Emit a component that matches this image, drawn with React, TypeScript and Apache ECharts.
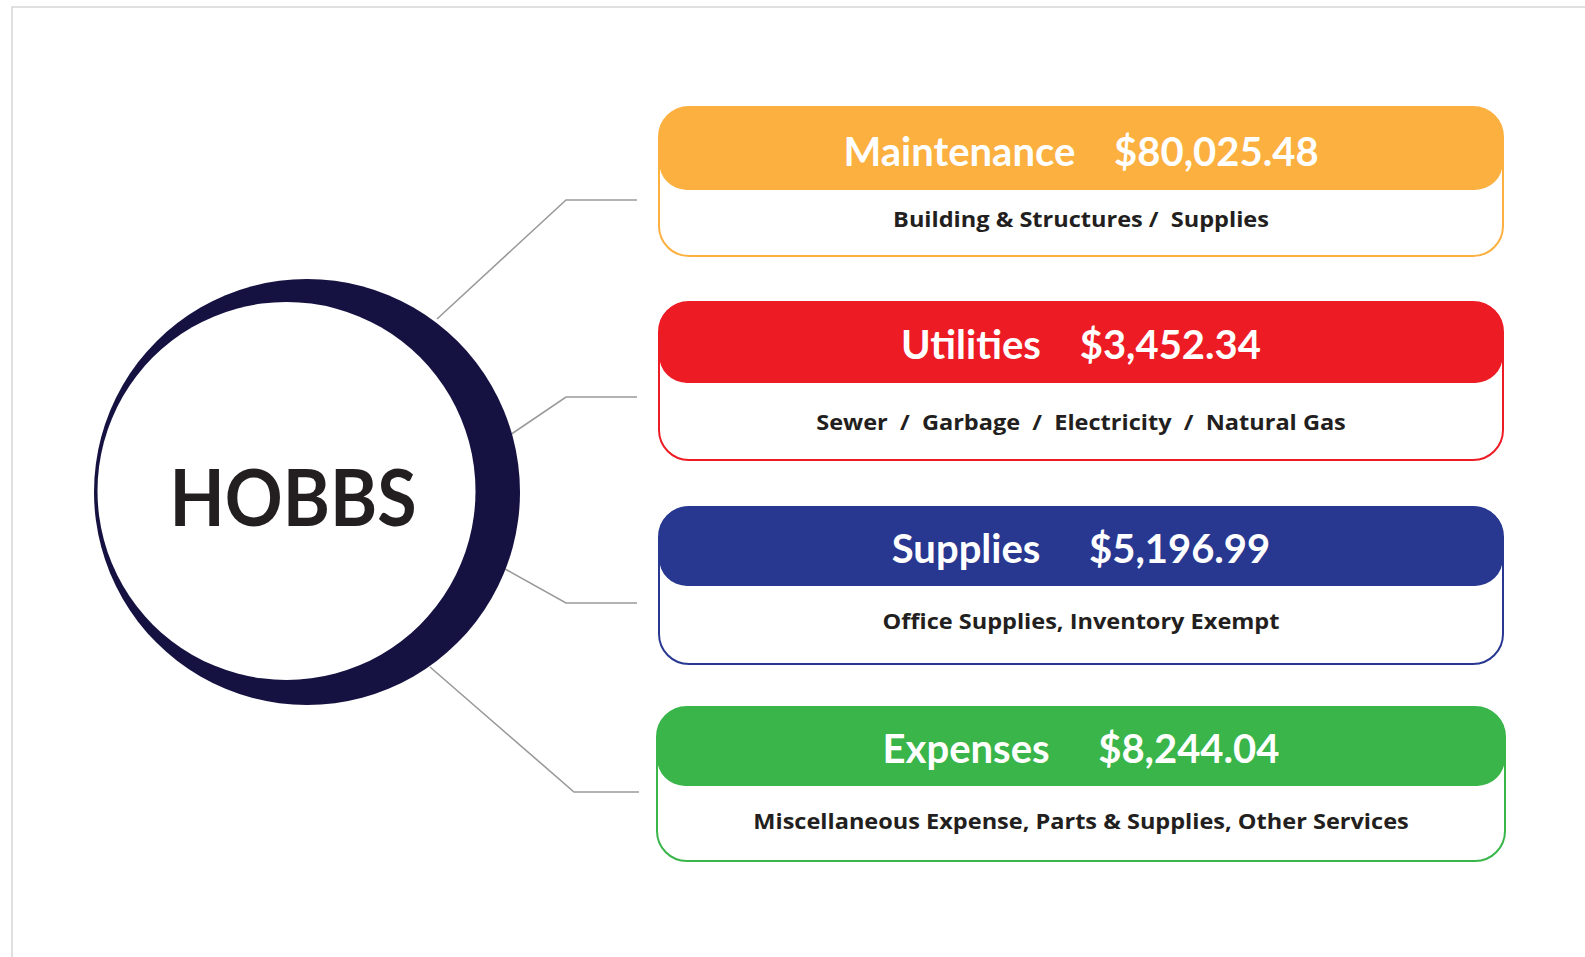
import React, { useEffect, useRef } from "react";
import * as echarts from "echarts";

const centerLabel = "HOBBS";
const categories = ["Maintenance", "Utilities", "Supplies", "Expenses"];
const amounts = [80025.48, 3452.34, 5196.99, 8244.04];
const descriptions = [
  "Building & Structures /  Supplies",
  "Sewer  /  Garbage  /  Electricity  /  Natural Gas",
  "Office Supplies, Inventory Exempt",
  "Miscellaneous Expense, Parts & Supplies, Other Services",
];
const titleGaps = ["    ", "    ", "     ", "     "];

const COLORS = ["#FBB040", "#ED1C24", "#283891", "#39B54A"];
const NAVY = "#151242";
const TEXT_DARK = "#231F20";
const TITLE_FONT = "Lato, 'Open Sans', sans-serif";
const SUB_FONT = "'Open Sans', Lato, sans-serif";

// layout
const BOXES = [
  { x: 659, y: 107, w: 844, h: 149, hh: 83, ty: -1, sy: -4 },
  { x: 659, y: 302, w: 844, h: 158, hh: 81, ty: -2, sy: 0 },
  { x: 659, y: 507, w: 844, h: 157, hh: 79, ty: -2, sy: -4 },
  { x: 657, y: 707, w: 848, h: 154, hh: 79, ty: -2, sy: -3 },
];
const CONNECTORS = [
  [[437, 319], [566, 200], [637, 200]],
  [[510, 435], [566, 397], [637, 397]],
  [[505, 569], [566, 603], [637, 603]],
  [[430, 667], [574, 792], [639, 792]],
];

function fmt(v: number) {
  return "$" + v.toLocaleString("en-US", { minimumFractionDigits: 2, maximumFractionDigits: 2 });
}

export default function App() {
  const ref = useRef<HTMLDivElement>(null);
  useEffect(() => {
    if (!ref.current) return;
    const chart = echarts.init(ref.current, undefined, { renderer: "svg" });
    const elements: any[] = [];
    // page frame
    elements.push({
      type: "rect",
      shape: { x: 12, y: 7, width: 1700, height: 1100 },
      style: { fill: "#ffffff", stroke: "#d6d6d6", lineWidth: 1.5 },
      z: 0,
    });
    // connectors
    CONNECTORS.forEach((pts) => {
      elements.push({
        type: "polyline",
        shape: { points: pts },
        style: { stroke: "#9a9a9a", lineWidth: 1.6, fill: "none" },
        z: 1,
      });
    });
    // circle
    elements.push({
      type: "circle",
      shape: { cx: 307, cy: 492, r: 213 },
      style: { fill: NAVY },
      z: 2,
    });
    elements.push({
      type: "circle",
      shape: { cx: 286.5, cy: 491, r: 189 },
      style: { fill: "#ffffff" },
      z: 3,
    });
    elements.push({
      type: "text",
      x: 293,
      y: 496,
      scaleX: 0.92,
      style: {
        text: centerLabel,
        fill: TEXT_DARK,
        font: `bold 78px ${TITLE_FONT}`,
        align: "center",
        verticalAlign: "middle",
      },
      z: 4,
    });
    // boxes
    categories.forEach((cat, i) => {
      const b = BOXES[i];
      const c = COLORS[i];
      elements.push({
        type: "rect",
        shape: { x: b.x, y: b.y, width: b.w, height: b.h, r: 30 },
        style: { fill: "#ffffff", stroke: c, lineWidth: 2 },
        z: 2,
      });
      elements.push({
        type: "rect",
        shape: { x: b.x, y: b.y, width: b.w, height: b.hh, r: 28 },
        style: { fill: c },
        z: 3,
      });
      elements.push({
        type: "text",
        x: b.x + b.w / 2,
        y: b.y + b.hh / 2 + 3 + b.ty,
        style: {
          text: cat + titleGaps[i] + fmt(amounts[i]),
          fill: "#ffffff",
          font: `bold 40px ${TITLE_FONT}`,
          align: "center",
          verticalAlign: "middle",
        },
        z: 4,
      });
      elements.push({
        type: "text",
        x: b.x + b.w / 2,
        y: b.y + b.hh + (b.h - b.hh) / 2 + b.sy,
        scaleX: 1.07,
        style: {
          text: descriptions[i],
          fill: TEXT_DARK,
          font: `bold 22px ${SUB_FONT}`,
          align: "center",
          verticalAlign: "middle",
        },
        z: 4,
      });
    });
    chart.setOption({
      animation: false,
      backgroundColor: "#ffffff",
      graphic: { elements },
    });
    return () => chart.dispose();
  }, []);
  return (
    <div
      ref={ref}
      style={{ position: "fixed", left: 0, top: 0, width: "1585px", height: "957px", background: "#fff" }}
    />
  );
}
